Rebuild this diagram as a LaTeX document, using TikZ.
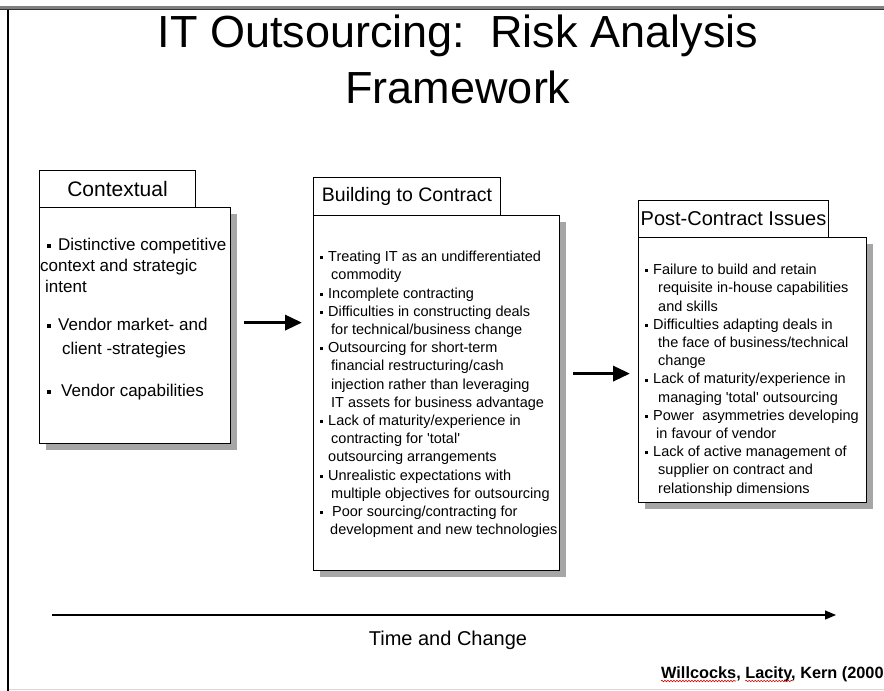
\documentclass[tikz,border=0pt]{standalone}
\usepackage{fontspec}
\setmainfont{Liberation Sans}
\usetikzlibrary{arrows.meta,shadows,decorations.pathmorphing}

% square list markers
\newcommand\bigbul{\rule[2.7pt]{3.5pt}{3.5pt}\hspace*{7.5pt}}
\newcommand\smallbul{\rule[2.3pt]{3pt}{3pt}\hspace*{5pt}}

\begin{document}
\begin{tikzpicture}[x=1pt,y=-1pt,
  hdrbox/.style={draw=black, line width=1pt, fill=white, inner sep=0pt,
    anchor=north west, font=\fontsize{20}{24}\selectfont},
  bodybox/.style={draw=black, line width=1.2pt, fill=white, inner sep=0pt,
    anchor=north west,
    drop shadow={shadow xshift=6pt, shadow yshift=-6pt, fill=black!35, opacity=1}},
  bodytext/.style={anchor=north west, inner sep=0pt, align=left,
    font=\fontsize{14.5}{18.2}\selectfont},
  stagearrow/.style={line width=3.5pt, -{Triangle[length=17pt,width=15pt]}},
  timearrow/.style={line width=1.3pt, -{Triangle[length=11pt,width=9pt]}},
  squiggle/.style={draw=red!85!black, line width=0.6pt,
    decorate, decoration={snake, amplitude=0.8pt, segment length=3pt}}
]
\useasboundingbox (0,0) rectangle (884,691);
\fill[white] (0,0) rectangle (884,691);

% slide frame
\fill[black!50] (0,6) rectangle (884,9.2);
\draw[black!80, line width=0.9pt] (0,9.6) -- (884,9.6);
\draw[black, line width=1.7pt] (8.2,9.6) -- (8.2,691);
\draw[black!15, line width=1pt] (9,689) -- (884,689);

% title
\node[anchor=north, inner sep=0pt, align=center,
      font=\fontsize{45}{56}\selectfont] (title) at (458,15)
  {IT Outsourcing:\ \ Risk Analysis\\Framework};

% stage 1: contextual
\node[bodybox, minimum width=191pt, minimum height=236pt] (ctx) at (39,207) {};
\node[hdrbox, minimum width=156pt, minimum height=37pt,
      font=\fontsize{21}{24}\selectfont] (ctxhdr) at (39,170) {Contextual};
\node[bodytext, font=\fontsize{17}{21}\selectfont] (ctxtext) at (40,238)
  {\hspace*{7pt}\bigbul Distinctive competitive\\
   context and strategic\\
   \hspace*{5pt}intent\\[17pt]
   \hspace*{7pt}\bigbul Vendor market- and\\[3pt]
   \hspace*{22pt}client -strategies\\[21pt]
   \hspace*{7pt}\bigbul\hspace*{3pt}Vendor capabilities};

% stage 2: building to contract
\node[bodybox, minimum width=246pt, minimum height=355pt] (bld) at (313,215) {};
\node[hdrbox, minimum width=187pt, minimum height=38pt,
      font=\fontsize{19.5}{24}\selectfont] (bldhdr) at (313,177) {Building to Contract};
\node[bodytext] (bldtext) at (320,251)
  {\smallbul Treating IT as an undifferentiated\\
   \hspace*{11pt}commodity\\
   \smallbul Incomplete contracting\\
   \smallbul Difficulties in constructing deals\\
   \hspace*{11pt}for technical/business change\\
   \smallbul Outsourcing for short-term\\
   \hspace*{11pt}financial restructuring/cash\\
   \hspace*{11pt}injection rather than leveraging\\
   \hspace*{11pt}IT assets for business advantage\\
   \smallbul Lack of maturity/experience in\\
   \hspace*{11pt}contracting for \textquotesingle total\textquotesingle\\
   \hspace*{8pt}outsourcing arrangements\\
   \smallbul Unrealistic expectations with\\
   \hspace*{11pt}multiple objectives for outsourcing\\
   \smallbul\hspace*{4pt}Poor sourcing/contracting for\\
   \hspace*{10pt}development and new technologies};

% stage 3: post-contract issues
\node[bodybox, minimum width=228pt, minimum height=265pt] (post) at (638,237) {};
\node[hdrbox, minimum width=190pt, minimum height=37pt] (posthdr) at (638,200) {Post-Contract Issues};
\node[bodytext] (posttext) at (645,264)
  {\smallbul Failure to build and retain\\
   \hspace*{13pt}requisite in-house capabilities\\
   \hspace*{13pt}and skills\\
   \smallbul Difficulties adapting deals in\\
   \hspace*{13pt}the face of business/technical\\
   \hspace*{13pt}change\\
   \smallbul Lack of maturity/experience in\\
   \hspace*{13pt}managing \textquotesingle total\textquotesingle{} outsourcing\\
   \smallbul Power\ \ asymmetries developing\\
   \hspace*{11pt}in favour of vendor\\
   \smallbul Lack of active management of\\
   \hspace*{13pt}supplier on contract and\\
   \hspace*{13pt}relationship dimensions};

% arrows between stages
\coordinate (a1s) at ([xshift=13pt,yshift=3pt]ctx.east);
\coordinate (a1e) at (a1s -| bld.west);
\draw[stagearrow] (a1s) -- ([xshift=-11pt]a1e);
\coordinate (a2e) at ([xshift=-8pt,yshift=-3.5pt]post.west);
\coordinate (a2s) at (a2e -| bld.east);
\draw[stagearrow] ([xshift=13pt]a2s) -- (a2e);

% time axis
\coordinate (tstart) at (52,615);
\coordinate (tend) at (836,615);
\draw[timearrow] (tstart) -- (tend);
\node[anchor=base, inner sep=0pt, font=\fontsize{20}{24}\selectfont] (tlabel) at (448,645) {Time and Change};

% source line
\node[anchor=base west, inner sep=0pt, font=\bfseries\fontsize{16.3}{19}\selectfont] (auth) at (661,678)
  {Willcocks, Lacity, Kern (2000};
\draw[squiggle] ([yshift=-3pt]auth.base west) -- ++(75.2,0);
\draw[squiggle] ([xshift=84.3pt,yshift=-3pt]auth.base west) -- ++(47.1,0);
\end{tikzpicture}
\end{document}
